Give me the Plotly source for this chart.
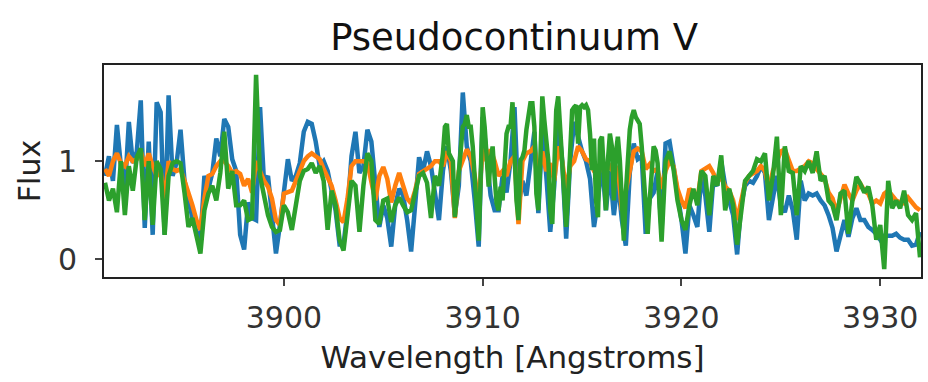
import numpy as np
import plotly.graph_objects as go

# Wavelength grid (Angstroms), 0.2 A sampling for blue/orange
wl_start, wl_step, n_pts = 3891.0, 0.2, 206
wavelength = np.round(wl_start + wl_step * np.arange(n_pts), 1)

# Green series is sampled finer (0.1 A) in its noisy 3908-3919 A stretch
wl_green = np.round(np.concatenate([
    3891.0 + 0.2 * np.arange(85),      # 3891.0 .. 3907.8
    3908.0 + 0.1 * np.arange(111),     # 3908.0 .. 3919.0
    3919.2 + 0.2 * np.arange(65),      # 3919.2 .. 3932.0
]), 1)

flux_blue = [
    0.85, 1.05, 0.80, 1.37, 0.95,
    0.70, 1.40, 0.98, 1.10, 1.62,
    0.32, 1.20, 0.25, 1.60, 1.50,
    0.25, 1.67, 0.85, 0.98, 1.32,
    0.80, 0.60, 0.42, 0.28, 0.19,
    0.85, 0.72, 0.88, 1.23, 1.05,
    1.43, 1.35, 1.02, 0.90, 0.25,
    0.10, 0.58, 0.42, 0.40, 1.55,
    0.78, 0.85, 0.45, 0.06, 0.35,
    0.74, 1.02, 0.80, 0.85, 0.98,
    1.30, 1.40, 1.38, 1.20, 0.95,
    1.00, 0.90, 0.70, 0.50, 0.15,
    0.15, 0.50, 1.05, 1.30, 0.88,
    0.95, 1.32, 1.20, 0.75, 0.33,
    0.55, 0.42, 0.13, 0.55, 0.72,
    0.65, 0.40, 0.08, 0.55, 1.04,
    0.90, 1.10, 0.95, 0.70, 0.40,
    0.90, 1.15, 0.90, 0.45, 0.75,
    1.70, 1.15, 1.00, 0.60, 0.13,
    1.45, 1.05, 0.65, 0.50, 0.50,
    0.85, 0.68, 1.00, 1.55, 0.55,
    0.80, 0.65, 1.00, 1.30, 0.47,
    1.30, 0.85, 0.28, 0.75, 1.45,
    1.00, 0.21, 1.00, 1.40, 1.25,
    1.10, 1.00, 0.82, 0.33, 0.60,
    1.00, 0.50, 0.90, 0.45, 0.80,
    0.40, 0.14, 0.88, 1.18, 1.02,
    1.05, 0.26, 0.62, 0.68, 0.90,
    0.30, 1.18, 1.20, 0.95, 0.68,
    0.40, 0.06, 0.55, 0.45, 0.33,
    0.85, 0.65, 0.28, 0.80, 0.75,
    1.00, 0.75, 0.60, 0.45, 0.05,
    0.55, 0.75, 0.80, 0.78, 0.85,
    0.95, 0.88, 0.40, 0.60, 0.85,
    0.55, 0.48, 0.65, 0.50, 0.20,
    0.80, 0.60, 0.67, 0.65, 0.67,
    0.60, 0.55, 0.45, 0.32, 0.08,
    0.25, 0.40, 0.23, 0.42, 0.52,
    0.40, 0.40, 0.33, 0.30, 0.26,
    0.20, 0.24, 0.24, 0.24, 0.26,
    0.22, 0.20, 0.20, 0.14, 0.15,
    0.28,
]

flux_orange = [
    0.92, 0.85, 1.00, 1.08, 0.98,
    0.95, 1.05, 1.00, 1.02, 1.10,
    0.95, 1.08, 0.95, 0.85, 0.90,
    0.60, 1.00, 0.92, 0.90, 0.92,
    0.80, 0.68, 0.55, 0.40, 0.30,
    0.62, 0.85, 0.87, 0.95, 1.00,
    1.00, 0.95, 0.88, 0.90, 0.87,
    0.75, 0.82, 0.68, 1.00, 0.90,
    0.80, 0.74, 0.62, 0.40, 0.35,
    0.67, 0.68, 0.70, 0.80, 0.90,
    1.00, 1.05, 1.08, 1.05, 1.02,
    0.92, 0.82, 0.75, 0.60, 0.42,
    0.38, 0.62, 0.95, 1.00, 1.00,
    1.00, 0.98, 0.80, 0.60, 0.85,
    0.94, 0.82, 0.58, 0.75, 0.88,
    0.75, 0.62, 0.57, 0.70, 0.87,
    0.90, 0.93, 0.95, 1.00, 1.00,
    0.95, 1.10, 1.00, 0.42, 0.90,
    1.00, 1.12, 1.05, 0.85, 0.55,
    1.15, 1.00, 1.12, 1.00, 0.85,
    0.90, 0.85, 1.00, 1.05, 0.36,
    1.00, 1.08, 1.10, 1.15, 0.85,
    1.10, 0.90, 0.98, 0.80, 1.15,
    1.00, 0.70, 0.95, 1.00, 1.15,
    1.10, 1.02, 1.00, 0.90, 0.85,
    1.00, 0.90, 0.95, 0.88, 0.95,
    0.50, 0.70, 0.92, 1.10, 1.13,
    1.10, 0.92, 0.97, 0.90, 0.92,
    0.72, 0.90, 1.00, 0.95, 0.72,
    0.60, 0.52, 0.72, 0.67, 0.60,
    0.90, 0.92, 0.95, 0.88, 0.78,
    0.85, 0.74, 0.70, 0.60, 0.40,
    0.62, 0.78, 0.85, 0.88, 0.90,
    0.95, 0.90, 0.72, 0.90, 1.00,
    1.10, 1.12, 1.00, 0.90, 0.90,
    0.92, 0.95, 1.00, 0.98, 0.92,
    0.87, 0.82, 0.68, 0.62, 0.48,
    0.62, 0.76, 0.67, 0.60, 0.70,
    0.77, 0.70, 0.67, 0.57, 0.60,
    0.57, 0.67, 0.70, 0.64, 0.60,
    0.58, 0.57, 0.63, 0.57, 0.53,
    0.50,
]

flux_green = [
    # 3891.0 - 3907.8 (0.2 A)
    0.78, 0.60, 0.72, 0.48, 1.00,
    0.45, 0.95, 0.70, 1.04, 1.13,
    0.40, 1.00, 0.35, 1.00, 0.92,
    0.25, 0.85, 0.98, 1.00, 0.98,
    0.68, 0.33, 0.42, 0.25, 0.06,
    0.50, 0.67, 0.75, 0.60, 0.88,
    1.30, 0.72, 0.90, 0.55, 0.55,
    0.60, 0.40, 0.42, 1.88, 0.85,
    0.62, 0.45, 0.33, 0.28, 0.30,
    0.55, 0.48, 0.30, 0.55, 0.80,
    0.90, 0.92, 0.98, 0.88, 0.95,
    0.80, 0.30, 0.70, 0.55, 0.20,
    0.09, 0.50, 0.80, 0.75, 0.28,
    0.75, 1.08, 1.00, 0.40, 0.36,
    0.60, 0.62, 0.38, 0.55, 0.63,
    0.55, 0.48, 0.50, 0.68, 0.85,
    0.88, 0.78, 0.42, 0.85, 0.75,
    # 3908.0 - 3919.0 (0.1 A)
    1.08, 1.35, 1.38, 1.08, 1.05, 1.00, 0.43, 0.67, 1.00, 1.18,
    1.35, 1.38, 1.47, 1.35, 1.35, 1.15, 0.84, 0.60, 0.19, 0.84,
    1.55, 1.35, 0.94, 0.74, 1.01, 1.15, 0.84, 0.57, 0.50, 0.74,
    0.60, 1.01, 1.28, 1.35, 1.35, 1.60, 1.01, 0.60, 0.40, 1.01,
    1.04, 1.11, 1.32, 1.49, 1.59, 1.59, 1.35, 0.67, 0.50, 1.01,
    1.66, 1.42, 1.18, 1.01, 0.50, 0.36, 0.91, 1.52, 1.66, 1.35,
    1.01, 0.81, 0.33, 0.67, 1.18, 1.52, 1.55, 1.57, 1.18, 1.55,
    1.57, 1.55, 1.57, 1.52, 1.28, 0.91, 1.23, 0.60, 0.43, 1.21,
    1.25, 0.74, 0.50, 1.01, 1.28, 1.15, 0.60, 1.08, 1.25, 1.01,
    0.60, 0.19, 0.67, 1.01, 1.32, 1.45, 1.52, 1.45, 1.40, 1.38,
    1.15, 0.84, 0.40, 0.26, 0.60, 0.91, 1.15, 1.11, 0.98, 0.53,
    0.18,
    # 3919.2 - 3932.0 (0.2 A)
    1.00, 1.10, 0.92, 0.60,
    0.40, 0.30, 0.55, 0.72, 0.55,
    0.90, 0.85, 0.45, 0.85, 0.75,
    1.06, 0.50, 0.72, 0.55, 0.15,
    0.50, 0.80, 0.85, 0.90, 1.02,
    1.00, 1.08, 0.60, 0.85, 1.25,
    0.45, 1.15, 0.90, 0.88, 0.45,
    0.95, 0.90, 1.00, 0.88, 1.10,
    0.80, 0.85, 0.60, 0.55, 0.40,
    0.67, 0.70, 0.26, 0.60, 0.84,
    0.77, 0.68, 0.74, 0.55, 0.20,
    0.35, -0.10, 0.80, 0.52, 0.60,
    0.52, 0.70, 0.45, 0.40, 0.47,
    0.02,
]

x_ticks = [3900, 3910, 3920, 3930]
y_ticks = [0, 1]
title_text = "Pseudocontinuum V"
x_label = "Wavelength [Angstroms]"
y_label = "Flux"

colors = ["#1f77b4", "#ff7f0e", "#2ca02c"]

fig = go.Figure()
for xs, ys, c in zip([wavelength, wavelength, wl_green],
                     [flux_blue, flux_orange, flux_green], colors):
    fig.add_trace(go.Scatter(x=xs, y=ys, mode="lines",
                             line=dict(color=c, width=4.5), showlegend=False,
                             hoverinfo="skip"))

font_family = "DejaVu Sans"
fig.update_layout(
    width=928, height=382,
    margin=dict(l=104, r=5, t=65, b=105),
    paper_bgcolor="white", plot_bgcolor="white",
    title=dict(text=title_text, x=0.554, xanchor="center",
               y=1 - 37 / 382, yref="container", yanchor="middle",
               font=dict(family=font_family, size=37, color="#111")),
    font=dict(family=font_family, color="#222"),
)
fig.update_xaxes(
    range=[3890.95, 3932.05], tickvals=x_ticks, ticktext=[str(t) for t in x_ticks],
    showgrid=False, zeroline=False, showline=True, mirror=True,
    linecolor="#222", linewidth=2, ticks="outside", ticklen=7, tickwidth=1.5,
    tickcolor="#444", tickfont=dict(size=30, family=font_family, color="#333"),
    ticklabelstandoff=6,
    title=dict(text=x_label, font=dict(size=31, family=font_family, color="#222"), standoff=12),
)
fig.update_yaxes(
    range=[-0.18, 1.98], tickvals=y_ticks, ticktext=[str(t) for t in y_ticks],
    showgrid=False, zeroline=False, showline=True, mirror=True,
    linecolor="#222", linewidth=2, ticks="outside", ticklen=7, tickwidth=1.5,
    tickcolor="#444", tickfont=dict(size=30, family=font_family, color="#333"),
    ticklabelstandoff=12,
    title=dict(text=y_label, font=dict(size=30, family=font_family, color="#222"), standoff=8),
)

fig.write_html("out.html")
